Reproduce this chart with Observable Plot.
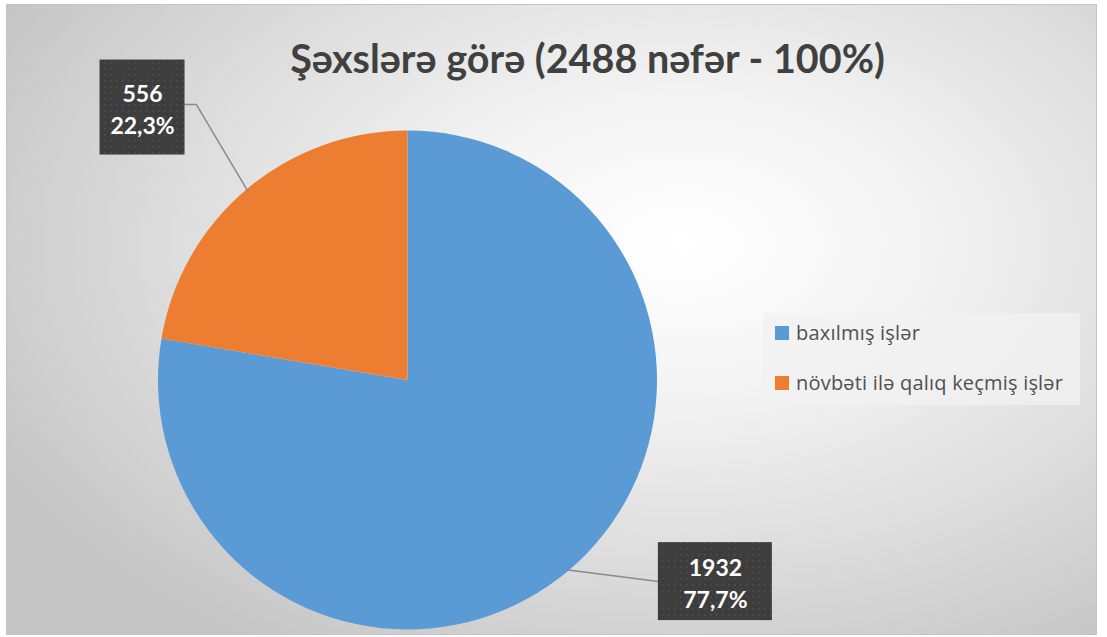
<!DOCTYPE html>
<html>
<head>
<meta charset="utf-8">
<script src="https://cdn.jsdelivr.net/npm/d3@7"></script>
<script src="https://cdn.jsdelivr.net/npm/@observablehq/plot@0.6"></script>
<style>
  html, body { margin: 0; padding: 0; background: #ffffff; }
  body { width: 1107px; height: 637px; position: relative; overflow: hidden; font-family: Lato, "Open Sans", sans-serif; }
  #area {
    position: absolute; left: 6px; top: 4px; width: 1091px; height: 631px;
    background: radial-gradient(ellipse 70% 75% at 62% 38%, #ffffff 0%, #f4f4f4 30%, #dedede 65%, #c6c6c6 100%);
    box-shadow: inset 0 0 0 1px #c4c4c4;
  }
  #title {
    position: absolute; left: 0; width: 1175px; top: 34px; text-align: center;
    font-weight: 700; font-size: 39.5px; color: #404040;
  }
  #legend {
    position: absolute; left: 763px; top: 313px; width: 317px; height: 92px;
    background: rgba(242,242,242,0.75);
  }
  .li { position: absolute; left: 12px; font-size: 20px; font-family: "Open Sans", sans-serif; color: #505050; white-space: nowrap; letter-spacing: 0.2px; }
  .sw { display: inline-block; width: 14px; height: 14px; margin-right: 7px; vertical-align: 0px; }
  #chart { position: absolute; left: 0; top: 0; }
</style>
</head>
<body>
<div id="area"></div>
<div id="title">Şəxslərə görə (2488 nəfər - 100%)</div>
<div id="legend"></div>
<div id="chart"></div>
<script>
// ---- data ----
const categories = ["baxılmış işlər", "növbəti ilə qalıq keçmiş işlər"];
const counts = [1932, 556];
const percentLabels = ["77,7%", "22,3%"];
const colors = ["#5B9BD5", "#ED7D31"];

// ---- layout (pie unit space) ----
const labelCenters = [[1.232, -0.806], [-1.064, 1.094]];
const labelSizes = [[114, 78], [85, 95]]; // px
const elbows = [null, [-0.848, 1.106]];

const slices = categories.map((c, i) => ({category: c, value: counts[i], pct: percentLabels[i], color: colors[i]}));
const pieArcs = d3.pie().sort(null).value(d => d.value)(slices);

// legend
const legend = document.getElementById("legend");
categories.forEach((c, i) => {
  const div = document.createElement("div");
  div.className = "li";
  div.style.top = (6 + i * 50) + "px";
  div.innerHTML = `<span class="sw" style="background:${colors[i]}"></span>${c}`;
  legend.appendChild(div);
});

const xRange = [158, 657], yRange = [629.5, 130.5];
const pxPerUnit = (xRange[1] - xRange[0]) / 2;

function pieMark(index, scales, values, dimensions, context) {
  const cx = scales.x(0), cy = scales.y(0), r = scales.x(1) - scales.x(0);
  const g = d3.create("svg:g").attr("transform", `translate(${cx},${cy})`);
  const arc = d3.arc().innerRadius(0).outerRadius(r);
  g.selectAll("path").data(pieArcs).join("path")
    .attr("d", arc).attr("fill", d => d.data.color)
    .attr("stroke", "none");
  return g.node();
}

// leader lines
const leaderPts = [];
pieArcs.forEach((a, i) => {
  const mid = (a.startAngle + a.endAngle) / 2;
  const ex = Math.sin(mid) * 0.995, ey = Math.cos(mid) * 0.995;
  const [lx, ly] = labelCenters[i];
  const [w, h] = labelSizes[i];
  const side = lx > 0 ? -1 : 1;
  const boxEdgeX = lx + side * (w / 2) / pxPerUnit;
  leaderPts.push({k: i, x: ex, y: ey});
  if (elbows[i]) {
    leaderPts.push({k: i, x: elbows[i][0], y: elbows[i][1]});
    leaderPts.push({k: i, x: boxEdgeX, y: elbows[i][1]});
  } else {
    leaderPts.push({k: i, x: boxEdgeX, y: ly + 0.0});
  }
});

const boxes = slices.map((s, i) => ({
  x1: labelCenters[i][0] - labelSizes[i][0] / 2 / pxPerUnit,
  x2: labelCenters[i][0] + labelSizes[i][0] / 2 / pxPerUnit,
  y1: labelCenters[i][1] - labelSizes[i][1] / 2 / pxPerUnit,
  y2: labelCenters[i][1] + labelSizes[i][1] / 2 / pxPerUnit,
  cx: labelCenters[i][0], cy: labelCenters[i][1],
  text: `${s.value}\n${s.pct}`
}));

const plot = Plot.plot({
  width: 1107, height: 637,
  margin: 0,
  x: {domain: [-1, 1], range: xRange, axis: null},
  y: {domain: [-1, 1], range: yRange, axis: null},
  style: {background: "transparent", overflow: "visible"},
  marks: [
    pieMark,
    Plot.line(leaderPts, {x: "x", y: "y", z: "k", stroke: "#8a8a8a", strokeWidth: 1.5, curve: "linear"}),
    Plot.rect(boxes, {x1: "x1", x2: "x2", y1: "y1", y2: "y2", fill: "url(#dots)",
      style: "filter: drop-shadow(3px 3px 3px rgba(0,0,0,0.45))"}),
    Plot.text(boxes, {x: "cx", y: "cy", text: "text", fill: "white", fontWeight: "bold",
      fontSize: 23, lineHeight: 1.4, fontFamily: "Lato, 'Open Sans', sans-serif"})
  ]
});

// pattern for label boxes
const defs = d3.select(plot).insert("defs", ":first-child");
const pat = defs.append("pattern").attr("id", "dots").attr("patternUnits", "userSpaceOnUse")
  .attr("width", 6).attr("height", 6);
pat.append("rect").attr("width", 6).attr("height", 6).attr("fill", "#3d3d3d");
pat.append("rect").attr("x", 2).attr("y", 2).attr("width", 1.5).attr("height", 1.5).attr("fill", "#505050");

document.getElementById("chart").appendChild(plot);
</script>
</body>
</html>
